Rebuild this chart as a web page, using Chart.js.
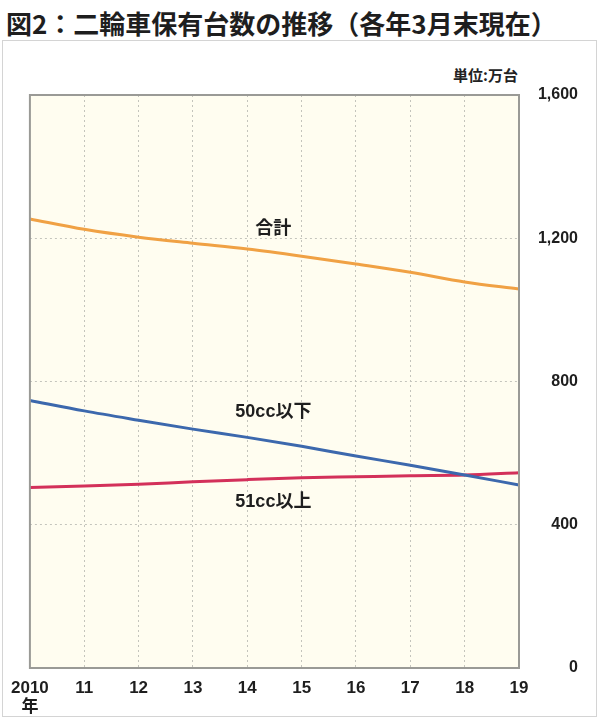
<!DOCTYPE html>
<html lang="ja">
<head>
<meta charset="utf-8">
<title>二輪車保有台数の推移</title>
<script src="https://cdn.jsdelivr.net/npm/chart.js@4/dist/chart.umd.min.js"></script>
<style>
  html, body { margin: 0; padding: 0; background: #fff; }
  #wrap { position: relative; width: 600px; height: 719px; overflow: hidden; }
  #frame { position: absolute; left: 2px; top: 40px; width: 593px; height: 675px; border: 1px solid #d4d4d4; }
  #title { position: absolute; left: 6px; top: 6px; font: bold 26px 'Noto Sans CJK JP', sans-serif; line-height: 34px; color: #1e1e1e; white-space: nowrap; }
  #unit { position: absolute; right: 82px; top: 64px; font: bold 15px 'Noto Sans CJK JP', sans-serif; line-height: 22px; color: #222; }
  #chart { position: absolute; left: 0; top: 0; }
</style>
</head>
<body>
<div id="wrap">
  <div id="frame"></div>
  <div id="title">図2：二輪車保有台数の推移（各年3月末現在）</div>
  <div id="unit">単位:万台</div>
  <canvas id="chart" width="600" height="719"></canvas>
</div>
<script>
/* ── data (万台, 各年3月末) ── */
const years    = [['2010', '年'], '11', '12', '13', '14', '15', '16', '17', '18', '19'];
const total    = [1254, 1225, 1203, 1186, 1170, 1150, 1128, 1105, 1078, 1058];
const under50  = [747, 718, 692, 667, 644, 619, 592, 566, 539, 511];
const over51   = [504, 508, 513, 520, 526, 531, 534, 537, 539, 545];
const seriesNames = ['合計', '50cc以下', '51cc以上'];
const yTicks   = [0, 400, 800, 1200, 1600];

// where the in-plot series names sit: [x index, value]
const nameAnchors = [[4.48, 1226], [4.48, 715], [4.48, 463]];

const colors = ['#f0a144', '#3c68ad', '#d3305a'];
const NUM_FONT = "'Liberation Sans', 'Noto Sans CJK JP', sans-serif";

/* plot background + solid frame round the chart area */
const plotFrame = {
  id: 'plotFrame',
  beforeDraw(chart) {
    const { ctx, chartArea: a } = chart;
    ctx.save();
    ctx.fillStyle = '#fffdf0';
    ctx.fillRect(a.left, a.top, a.right - a.left, a.bottom - a.top);
    ctx.restore();
  },
  afterDatasetsDraw(chart) {
    const { ctx, chartArea: a } = chart;
    ctx.save();
    ctx.strokeStyle = '#9a9a96';
    ctx.lineWidth = 2;
    ctx.strokeRect(a.left, a.top, a.right - a.left, a.bottom - a.top);
    ctx.restore();
  }
};

/* series names written next to their lines */
const seriesLabels = {
  id: 'seriesLabels',
  afterDatasetsDraw(chart) {
    const { ctx, scales: { x, y } } = chart;
    ctx.save();
    ctx.fillStyle = '#1e1e1e';
    ctx.font = 'bold 18px ' + NUM_FONT;
    ctx.textAlign = 'center';
    ctx.textBaseline = 'middle';
    seriesNames.forEach((name, i) => {
      const [xi, v] = nameAnchors[i];
      ctx.fillText(name, x.getPixelForValue(xi), y.getPixelForValue(v));
    });
    ctx.restore();
  }
};

const mkSet = (label, data, color) => ({
  label, data,
  borderColor: color,
  backgroundColor: color,
  borderWidth: 3,
  pointRadius: 0,
  cubicInterpolationMode: 'monotone',
  fill: false
});

new Chart(document.getElementById('chart'), {
  type: 'line',
  data: {
    labels: years,
    datasets: [
      mkSet(seriesNames[0], total, colors[0]),
      mkSet(seriesNames[1], under50, colors[1]),
      mkSet(seriesNames[2], over51, colors[2])
    ]
  },
  options: {
    responsive: false,
    animation: false,
    events: [],
    layout: { padding: { left: 28, top: 95, right: 22, bottom: 0 } },
    plugins: { legend: { display: false }, title: { display: false }, tooltip: { enabled: false } },
    scales: {
      x: {
        offset: false,
        grid: { color: '#c4c4bc', lineWidth: 1, drawTicks: false },
        border: { display: false, dash: [2, 3] },
        ticks: { color: '#1e1e1e', font: { family: NUM_FONT, size: 17, weight: 'bold', lineHeight: 1.1 }, padding: 11, maxRotation: 0, autoSkip: false },
        afterFit(s) { s.height = 51; }
      },
      y: {
        position: 'right',
        min: 0, max: 1600,
        afterBuildTicks(s) { s.ticks = yTicks.map(v => ({ value: v })); },
        grid: { color: '#c4c4bc', lineWidth: 1, drawTicks: false },
        border: { display: false, dash: [2, 3] },
        ticks: {
          color: '#1e1e1e',
          crossAlign: 'far',
          font: { family: NUM_FONT, size: 16, weight: 'bold' },
          callback: v => v.toLocaleString('en-US')
        },
        afterFit(s) { s.width = 59; }
      }
    }
  },
  plugins: [plotFrame, seriesLabels]
});
</script>
</body>
</html>
